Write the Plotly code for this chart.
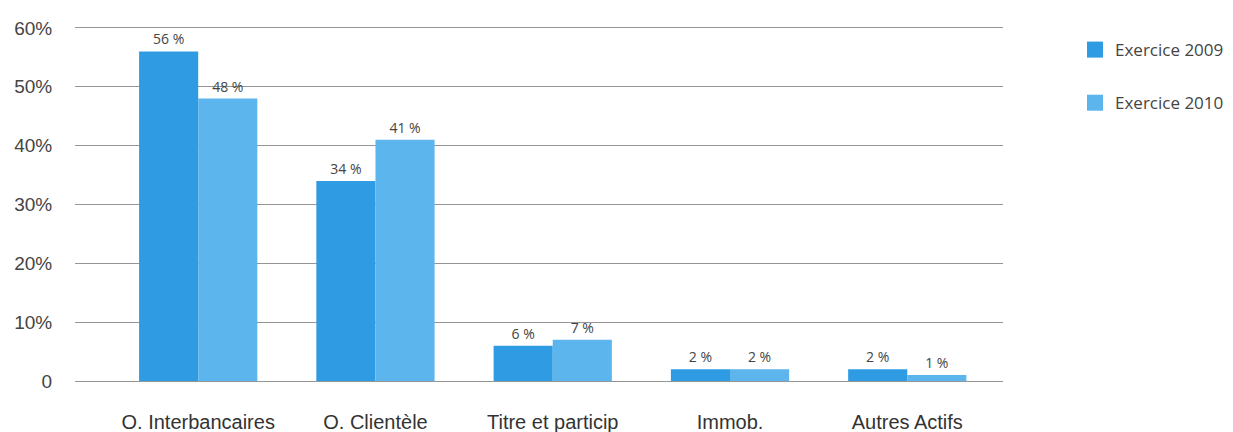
import plotly.graph_objects as go

categories = ["O. Interbancaires", "O. Clientèle", "Titre et particip", "Immob.", "Autres Actifs"]
values_2009 = [56, 34, 6, 2, 2]
values_2010 = [48, 41, 7, 2, 1]
series_names = ["Exercice 2009", "Exercice 2010"]
tick_values = [0, 10, 20, 30, 40, 50, 60]
tick_labels = ["0", "10%", "20%", "30%", "40%", "50%", "60%"]

colors = ["#2f9be3", "#5cb5ec"]
label_font = "Open Sans, Noto Sans, sans-serif"
axis_font = "Liberation Sans, Arial, sans-serif"

fig = go.Figure()
for i, (name, vals) in enumerate(zip(series_names, [values_2009, values_2010])):
    fig.add_trace(go.Bar(
        x=categories,
        y=vals,
        name=name,
        showlegend=False,
        marker=dict(color=colors[i], line=dict(width=0)),
        text=[f"{v} %" for v in vals],
        textposition="outside",
        textfont=dict(family=label_font, size=14, color="#444444"),
        cliponaxis=False,
    ))

# Legend entries with square swatches
for i, name in enumerate(series_names):
    fig.add_trace(go.Scatter(
        x=[None], y=[None],
        mode="markers",
        name=name,
        legendgroup=name,
        marker=dict(symbol="square", size=17, color=colors[i]),
    ))

fig.update_layout(
    width=1233,
    height=432,
    margin=dict(l=75, r=230, t=22, b=51, autoexpand=False),
    paper_bgcolor="white",
    plot_bgcolor="white",
    barmode="group",
    bargap=0.333,
    bargroupgap=0,
    showlegend=True,
    legend=dict(
        x=1.0776, y=0.972, xanchor="left", yanchor="top",
        traceorder="grouped",
        tracegroupgap=28,
        font=dict(family=label_font, size=17, color="#444444"),
        itemwidth=30,
    ),
    xaxis=dict(
        range=[-0.695, 4.54],
        automargin=False,
        showgrid=False,
        showline=False,
        ticks="outside",
        ticklen=23,
        tickcolor="rgba(0,0,0,0)",
        tickfont=dict(family=axis_font, size=20, color="#333333"),
    ),
    yaxis=dict(
        range=[0, 61],
        automargin=False,
        tickvals=tick_values,
        ticktext=tick_labels,
        showgrid=True,
        gridcolor="#959595",
        gridwidth=1,
        zeroline=True,
        zerolinecolor="#959595",
        zerolinewidth=1,
        showline=False,
        ticks="outside",
        ticklen=18,
        tickcolor="rgba(0,0,0,0)",
        tickfont=dict(family=axis_font, size=19, color="#444444"),
    ),
)

fig.write_html("out.html")
